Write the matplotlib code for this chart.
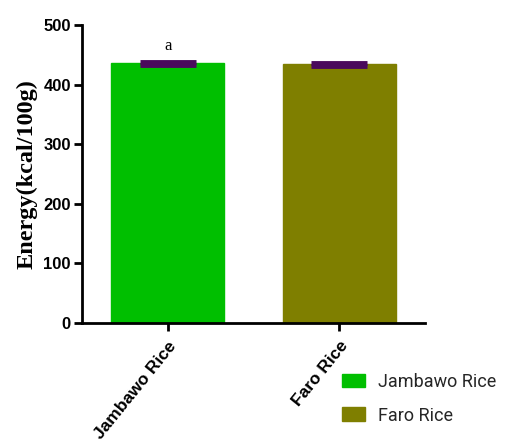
import matplotlib
matplotlib.use("Agg")
import matplotlib.pyplot as plt
from matplotlib.patches import Patch

categories = ["Jambawo Rice", "Faro Rice"]
energy = [436, 434]
energy_err = [2.5, 2.5]
bar_colors = ["#00BF00", "#7F7F00"]
err_color = "#4A0A5C"
sig_letters = ["a", ""]
yticks = [0, 100, 200, 300, 400, 500]

fig = plt.figure(figsize=(5.15, 4.48), dpi=100)
ax = fig.add_axes([0.159, 0.279, 0.666, 0.665])

x = list(range(len(categories)))
ax.bar(x, energy, width=0.66, color=bar_colors, edgecolor=bar_colors, zorder=2)
ax.errorbar(x, energy, yerr=energy_err, fmt="none", ecolor=err_color,
            elinewidth=3, capsize=20.5, capthick=3.5, zorder=3)
for xi, v, e, s in zip(x, energy, energy_err, sig_letters):
    if s:
        ax.text(xi, v + e + 13, s, ha="center", va="bottom",
                family="Liberation Serif", fontsize=12)

ax.set_xlim(-0.5, 1.5)
ax.set_ylim(0, 500)
ax.set_yticks(yticks)
ax.set_xticks(x)
ax.set_xticklabels(categories, rotation=51, ha="right", rotation_mode="anchor",
                   family="Liberation Sans", fontweight="bold", fontsize=12.5)
for lbl in ax.get_yticklabels():
    lbl.set_family("Liberation Sans")
    lbl.set_fontweight("bold")
    lbl.set_fontsize(12)

for side in ("top", "right"):
    ax.spines[side].set_visible(False)
for side in ("left", "bottom"):
    ax.spines[side].set_linewidth(2)
ax.tick_params(axis="both", direction="out", width=2, length=6, pad=2)
ax.tick_params(axis="x", pad=5)

ax.set_ylabel("Energy(kcal/100g)", family="Liberation Serif", fontweight="bold",
              fontsize=17.5, labelpad=4)

handles = [Patch(facecolor=c, edgecolor=c) for c in bar_colors]
fig.legend(handles, categories, loc="upper left", bbox_to_anchor=(0.664, 0.168),
           frameon=False, handlelength=1.27, handleheight=0.8,
           labelspacing=0.88, handletextpad=0.75, borderaxespad=0, borderpad=0,
           labelcolor="#262626",
           prop={"family": "Roboto", "size": 13})

fig.savefig("out.png", dpi=100)
